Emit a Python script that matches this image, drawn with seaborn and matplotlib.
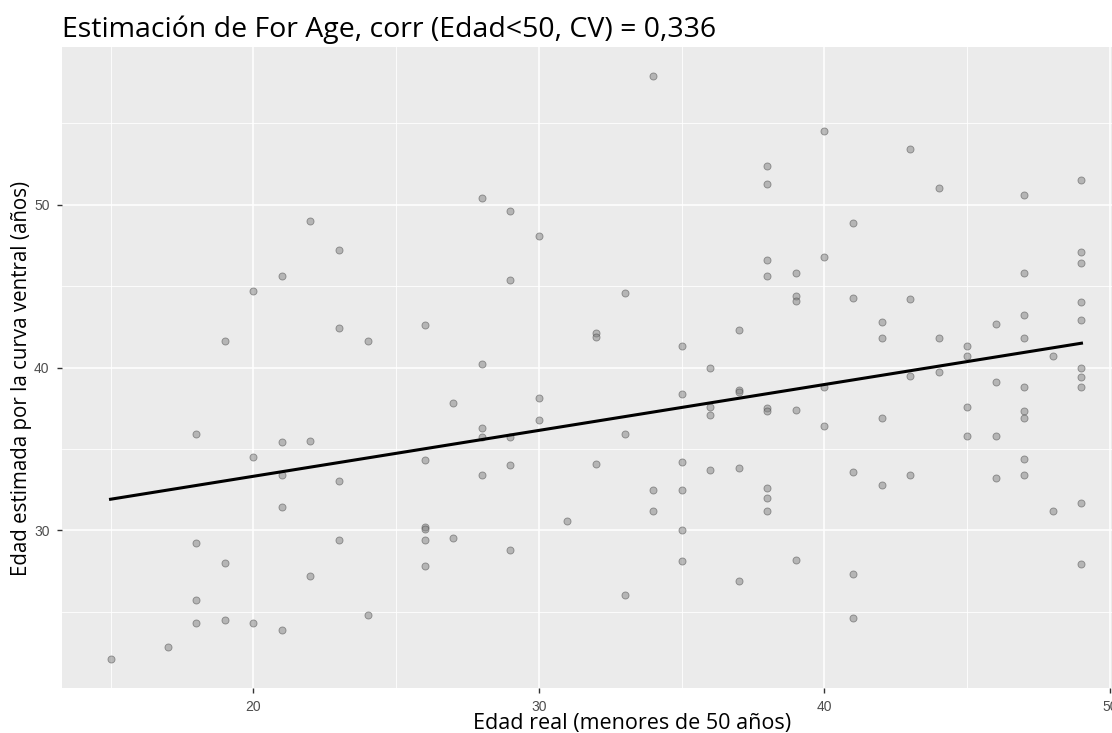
#!/usr/bin/env python3

import matplotlib
matplotlib.use("Agg")
import matplotlib.pyplot as plt
import numpy as np
import pandas as pd
import seaborn as sns
from matplotlib.ticker import MultipleLocator

# real age (x) and the age estimated from the ventral curve (y), read per column
edad_real = (
    [15] + [17] + [18] * 4 + [19] * 3 + [20] * 3 + [21] * 5 + [22] * 3 + [23] * 4
    + [24] * 2 + [26] * 6 + [27] * 2 + [28] * 5 + [29] * 5 + [30] * 3 + [31]
    + [32] * 3 + [33] * 3 + [34] * 3 + [35] * 6 + [36] * 4 + [37] * 5 + [38] * 9
    + [39] * 5 + [40] * 4 + [41] * 5 + [42] * 4 + [43] * 4 + [44] * 3 + [45] * 4
    + [46] * 4 + [47] * 9 + [48] * 2 + [49] * 10
)
edad_estimada = [
    22.1,
    22.8,
    35.9, 29.2, 25.7, 24.3,
    41.6, 28.0, 24.5,
    44.7, 34.5, 24.3,
    45.6, 35.4, 33.4, 31.4, 23.9,
    49.0, 35.5, 27.2,
    47.2, 42.4, 33.0, 29.4,
    41.6, 24.8,
    42.6, 34.3, 30.2, 30.1, 29.4, 27.8,
    37.8, 29.5,
    50.4, 40.2, 36.3, 35.7, 33.4,
    49.6, 45.4, 35.7, 34.0, 28.8,
    48.1, 38.1, 36.8,
    30.6,
    42.1, 41.9, 34.1,
    44.6, 35.9, 26.0,
    57.9, 32.5, 31.2,
    41.3, 38.4, 34.2, 32.5, 30.0, 28.1,
    40.0, 37.6, 37.1, 33.7,
    42.3, 38.6, 38.5, 33.8, 26.9,
    52.4, 51.3, 46.6, 45.6, 37.5, 37.3, 32.6, 32.0, 31.2,
    45.8, 44.4, 44.1, 37.4, 28.2,
    54.5, 46.8, 38.8, 36.4,
    48.9, 44.3, 33.6, 27.3, 24.6,
    42.8, 41.8, 36.9, 32.8,
    53.4, 44.2, 39.5, 33.4,
    51.0, 41.8, 39.7,
    41.3, 40.7, 37.6, 35.8,
    42.7, 39.1, 35.8, 33.2,
    50.6, 45.8, 43.2, 41.8, 38.8, 37.3, 36.9, 34.4, 33.4,
    40.7, 31.2,
    51.5, 47.1, 46.4, 44.0, 42.9, 40.0, 39.4, 38.8, 31.7, 27.9,
]

x_ticks = [20, 30, 40, 50]
y_ticks = [30, 40, 50]
titulo = "Estimación de For Age, corr (Edad<50, CV) = 0,336"
x_label = "Edad real (menores de 50 años)"
y_label = "Edad estimada por la curva ventral (años)"

df = pd.DataFrame({"real": edad_real, "estimada": edad_estimada})

W, H = 1112, 733
fig = plt.figure(figsize=(W / 100, H / 100), dpi=100)

# panel runs past the right edge, like the cropped original
left, right, top, bottom = 62, 1130, 47, 688
ax = fig.add_axes([left / W, 1 - bottom / H, (right - left) / W, (bottom - top) / H])
ax.set_facecolor("#EBEBEB")

sns.scatterplot(data=df, x="real", y="estimada", ax=ax, s=26,
                color="#808080", edgecolor="#404040", linewidth=0.6, alpha=0.5,
                zorder=3)
sns.regplot(data=df, x="real", y="estimada", ax=ax, scatter=False, ci=None,
            truncate=True, line_kws={"color": "black", "linewidth": 2.2, "zorder": 4})

lo_x, hi_x = df["real"].min(), df["real"].max()
lo_y, hi_y = df["estimada"].min(), df["estimada"].max()
ax.set_xlim(lo_x - 0.05 * (hi_x - lo_x), hi_x + 0.05 * (hi_x - lo_x))
ax.set_ylim(lo_y - 0.05 * (hi_y - lo_y), hi_y + 0.05 * (hi_y - lo_y))

ax.set_xticks(x_ticks)
ax.set_yticks(y_ticks)
ax.xaxis.set_minor_locator(MultipleLocator(5))
ax.yaxis.set_minor_locator(MultipleLocator(5))
ax.grid(which="major", color="white", linewidth=1.1, zorder=0)
ax.grid(which="minor", color="white", linewidth=0.6, zorder=0)
ax.set_axisbelow(True)
for s in ax.spines.values():
    s.set_visible(False)
ax.tick_params(which="major", length=3.5, width=1.0, color="#333333",
               labelcolor="#4D4D4D", labelsize=10)
ax.tick_params(axis="x", which="major", pad=5)
ax.tick_params(axis="y", which="major", pad=5.5)
ax.tick_params(which="minor", length=0)
for lab in ax.get_xticklabels() + ax.get_yticklabels():
    lab.set_family("Liberation Sans")
ax.set_xlabel("")
ax.set_ylabel("")

fig.text(left / W, 1 - 37 / H, titulo, fontsize=20.5, family="Open Sans",
         ha="left", va="baseline")
fig.text(632 / W, 1 - 724 / H, x_label, fontsize=15.5, family="Open Sans",
         ha="center", va="center")
fig.text(22 / W, 1 - 379 / H, y_label, fontsize=14.8, family="Open Sans",
         ha="center", va="center", rotation=90)

fig.savefig("out.png", dpi=100)
